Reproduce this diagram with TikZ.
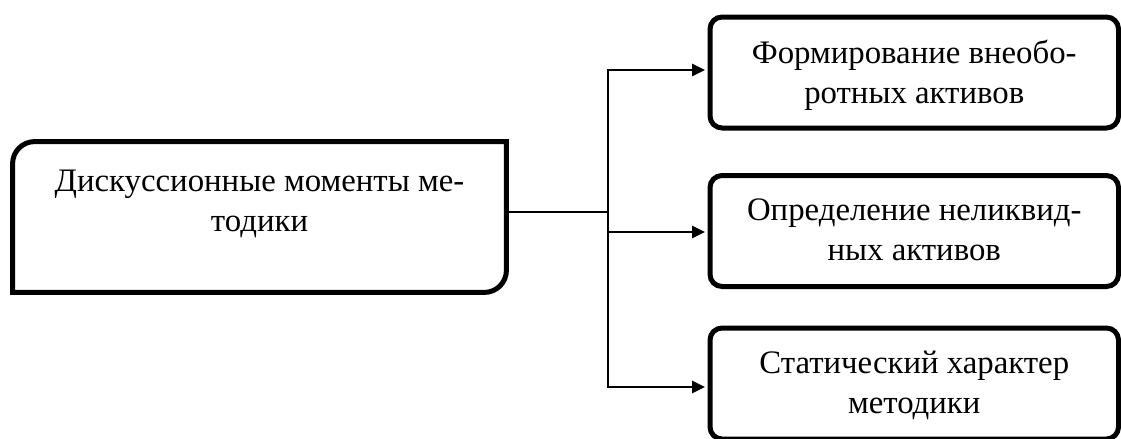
\documentclass[tikz,border=0pt]{standalone}
\usepackage{fontspec}
\setmainfont{Liberation Serif}
\usetikzlibrary{arrows.meta}
\begin{document}
\begin{tikzpicture}[x=0.5pt,y=-0.5pt,
  border/.style={line width=2.5pt},
  rbox/.style={draw, line width=2.5pt, rounded corners=6pt, minimum width=204.25pt, minimum height=55.5pt, inner sep=0pt},
  lbox/.style={minimum width=246.5pt, minimum height=75pt, inner sep=0pt},
  txt/.style={font=\fontsize{16.4pt}{20pt}\selectfont, align=center, inner sep=0pt, anchor=north},
  conn/.style={line width=1.4pt},
  arr/.style={conn, -{Triangle[length=6.5pt,width=6pt]}, shorten >=1.25pt}]
\useasboundingbox (0,0) rectangle (1121,439);
% left box
\node[lbox] (L) at (259.5,217) {};
\draw[border] (L.south west) -- ([yshift=-11pt]L.north west)
  arc[start angle=180,end angle=90,radius=11pt] -- (L.north east)
  -- ([yshift=11pt]L.south east) arc[start angle=0,end angle=-90,radius=11pt] -- cycle;
\node[txt] (Lt) at ([yshift=-14pt]L.north) {Дискуссионные моменты ме-\\тодики};
% right boxes
\node[rbox] (B1) at (914.25,72.5) {};
\node[rbox] (B2) at (914.25,231) {};
\node[rbox] (B3) at (914.25,383.5) {};
\node[txt] (T1) at ([yshift=-12.5pt]B1.north) {Формирование внеобо-\\ротных активов};
\node[txt] (T2) at ([yshift=-12.5pt]B2.north) {Определение неликвид-\\ных активов};
\node[txt] (T3) at ([yshift=-12.5pt]B3.north) {Статический характер\\методики};
% connectors
\coordinate (J) at (608,212);
\coordinate (Ja) at (608,70);
\coordinate (Jb) at (608,232);
\coordinate (Jc) at (608,387);
\draw[conn] ([yshift=2.5pt]L.east) -- (J);
\draw[conn, {Triangle[length=6.5pt,width=6pt]}-{Triangle[length=6.5pt,width=6pt]}, shorten <=1.25pt, shorten >=1.25pt]
  (Ja -| B1.west) -- (Ja) -- (Jc) -- (Jc -| B3.west);
\draw[arr] (Jb) -- (Jb -| B2.west);
\end{tikzpicture}
\end{document}
